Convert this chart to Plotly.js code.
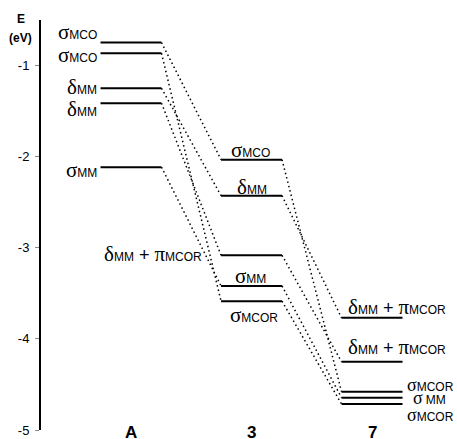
<!DOCTYPE html>
<html><head><meta charset="utf-8">
<script src="https://cdn.plot.ly/plotly-3.0.1.min.js"></script>
<style>html,body{margin:0;padding:0;background:#fff}</style>
</head><body><div id="chart" style="width:457px;height:439px"></div>
<script>
// ---- data ----
const categories = ['A', '3', '7'];
const energiesA = [-0.748, -0.865, -1.249, -1.413, -2.115];
const energies3 = [-2.033, -2.428, -3.082, -3.419, -3.586];
const energies7 = [-3.769, -4.252, -4.580, -4.646, -4.715];
const labelsA = ['σMCO', 'σMCO', 'δMM', 'δMM', 'σMM'];
const labels3 = ['σMCO', 'δMM', 'δMM+πMCOR', 'σMM', 'σMCOR'];
const labels7 = ['δMM+πMCOR', 'δMM+πMCOR', 'σMCOR', 'σ MM', 'σMCOR'];
const linksA3 = [[0, 0], [1, 4], [2, 1], [3, 2], [4, 3]];
const links37 = [[0, 2], [1, 0], [2, 1], [3, 3], [4, 4]];
const yTicks = [-1, -2, -3, -4, -5];
const yTickText = ['-1', '-2', '-3', '-4', '-5'];

// ---- drawing ----
const columns = [energiesA, energies3, energies7];
const HW = 0.253;
const traces = [];

columns.forEach((col, ci) => {
  const xs = [], ys = [];
  col.forEach(e => { xs.push(ci - HW, ci + HW, null); ys.push(e, e, null); });
  traces.push({x: xs, y: ys, mode: 'lines', type: 'scatter', hoverinfo: 'skip',
    line: {color: '#000', width: 2}, showlegend: false});
});
[[linksA3, 0], [links37, 1]].forEach(([links, ci]) => {
  const xs = [], ys = [];
  links.forEach(([a, b]) => {
    xs.push(ci + HW, ci + 1 - HW, null);
    ys.push(columns[ci][a], columns[ci + 1][b], null);
  });
  traces.push({x: xs, y: ys, mode: 'lines', type: 'scatter', hoverinfo: 'skip',
    line: {color: '#000', width: 1.5, dash: '1.5px,3px'}, showlegend: false});
});

function fmt(str, gs, ss) {
  let out = '';
  const re = /([σδπ])|(\+)|([A-Z]+)|( )/g;
  let m;
  while ((m = re.exec(str)) !== null) {
    if (m[1]) out += `<span style="font-family:Liberation Serif;font-size:${gs}px">${m[1]}</span>`;
    else if (m[2]) out += `<span style="font-size:${ss + 6}px"> + </span>`;
    else if (m[3]) out += `<span style="font-size:${ss}px">${m[3]}</span>`;
    else out += ' ';
  }
  return out;
}

const annotations = [];
const baseFont = {family: 'Liberation Sans, Arial, sans-serif', color: '#000', size: 11};
const shiftA = [11, -2, 1, -5.5, -3];
labelsA.forEach((l, i) => annotations.push({x: 0 - HW, y: energiesA[i], xref: 'x', yref: 'y',
  text: fmt(l, 21, 12), showarrow: false, xanchor: 'right', yanchor: 'middle',
  xshift: -2, yshift: shiftA[i], font: baseFont}));
const pos3 = [
  {xa: 'center', x: 1, xs: -1, ys: 10},
  {xa: 'center', x: 1, xs: 0, ys: 9},
  {xa: 'right', x: 1 - HW, xs: -17, ys: 1.5},
  {xa: 'center', x: 1, xs: -1, ys: 10},
  {xa: 'center', x: 1, xs: 2, ys: -14}
];
labels3.forEach((l, i) => annotations.push({x: pos3[i].x, y: energies3[i], xref: 'x', yref: 'y',
  text: fmt(l, 21, 12), showarrow: false, xanchor: pos3[i].xa, yanchor: 'middle',
  xshift: pos3[i].xs, yshift: pos3[i].ys, font: baseFont}));
const pos7 = [
  {xa: 'left', x: 2 - HW, xs: 4, ys: 11, g: 21},
  {xa: 'left', x: 2 - HW, xs: 4, ys: 15, g: 21},
  {xa: 'left', x: 2 + HW, xs: 2, ys: 7, g: 18},
  {xa: 'left', x: 2 + HW, xs: 8, ys: 0, g: 18},
  {xa: 'left', x: 2 + HW, xs: 2, ys: -11, g: 18}
];
labels7.forEach((l, i) => annotations.push({x: pos7[i].x, y: energies7[i], xref: 'x', yref: 'y',
  text: fmt(l, pos7[i].g, 12), showarrow: false, xanchor: pos7[i].xa, yanchor: 'middle',
  xshift: pos7[i].xs, yshift: pos7[i].ys, font: baseFont}));
categories.forEach((c, i) => annotations.push({x: i, y: 0, xref: 'x', yref: 'paper',
  text: '<b>' + c + '</b>', showarrow: false, xanchor: 'center', yanchor: 'middle', yshift: -2,
  font: {family: 'Liberation Sans, Arial, sans-serif', size: 17, color: '#000'}}));
annotations.push({x: 0, y: 1, xref: 'paper', yref: 'paper', text: '<b>E</b>', showarrow: false,
  xanchor: 'center', yanchor: 'middle', xshift: -20, yshift: 1,
  font: {family: 'Liberation Sans, Arial, sans-serif', size: 12, color: '#000'}});
annotations.push({x: 0, y: 1, xref: 'paper', yref: 'paper', text: '<b>(eV)</b>', showarrow: false,
  xanchor: 'center', yanchor: 'middle', xshift: -21, yshift: -18,
  font: {family: 'Liberation Sans, Arial, sans-serif', size: 12, color: '#000'}});

const layout = {
  width: 457, height: 439, autosize: false,
  margin: {l: 41, r: 0, t: 20, b: 9, pad: 0},
  paper_bgcolor: '#fff', plot_bgcolor: '#fff',
  showlegend: false,
  xaxis: {range: [-0.747, 2.705], visible: false, fixedrange: true},
  yaxis: {range: [-5, -0.5], tickvals: yTicks, ticktext: yTickText, showgrid: false, zeroline: false,
    showline: true, linecolor: '#000', linewidth: 2, ticks: 'outside', ticklen: 4, tickwidth: 1,
    tickcolor: '#888', ticklabelstandoff: 3,
    tickfont: {family: 'Liberation Sans, Arial, sans-serif', size: 13, color: '#000'}, fixedrange: true},
  annotations: annotations
};
Plotly.newPlot('chart', traces, layout, {displayModeBar: false, staticPlot: true});
</script></body></html>
